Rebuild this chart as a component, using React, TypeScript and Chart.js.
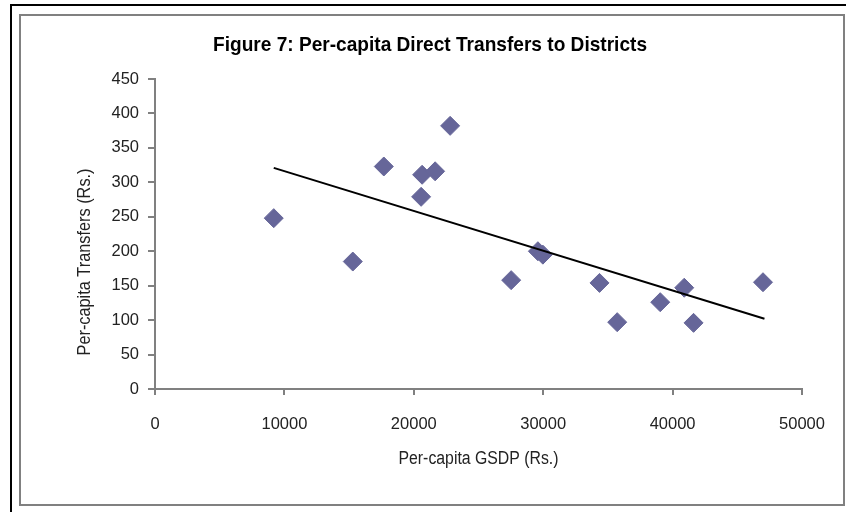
import React, { useEffect, useRef } from "react";
import { Chart, registerables } from "chart.js";

Chart.register(...registerables);

const chartTitle = "Figure 7: Per-capita Direct Transfers to Districts";
const xAxisTitle = "Per-capita GSDP (Rs.)";
const yAxisTitle = "Per-capita Transfers (Rs.)";

const gsdp = [9177, 15285, 17682, 20643, 21648, 20566, 22808, 29589, 29975, 27524, 34351, 35720, 39044, 40900, 41619, 46985];
const transfers = [248, 185, 323, 311, 316, 279, 382, 200, 195, 158, 154, 97, 126, 147, 96, 155];

const trendX = [9177, 47100];
const trendY = [321, 102];

const xMin = 0;
const xMax = 50000;
const xStep = 10000;
const yMin = 0;
const yMax = 450;
const yStep = 50;

const FONT = "'Liberation Sans', Arial, sans-serif";

function narrowText(ctx: any, text: string, x: number, y: number, targetWidth: number) {
  const w = ctx.measureText(text).width;
  const k = Math.min(1, targetWidth / w);
  ctx.save();
  ctx.translate(x, y);
  ctx.scale(k, 1);
  ctx.fillText(text, 0, 0);
  ctx.restore();
}

export default function App() {
  const ref = useRef<HTMLCanvasElement | null>(null);

  useEffect(() => {
    if (!ref.current) return;
    const textPlugin = {
      id: "texts",
      afterDraw(chart: any) {
        const ctx = chart.ctx;
        const ca = chart.chartArea;
        ctx.save();
        ctx.fillStyle = "#000";
        ctx.textAlign = "center";
        ctx.textBaseline = "middle";
        ctx.font = `bold 21px ${FONT}`;
        narrowText(ctx, chartTitle, 430, 45, 434);
        ctx.fillStyle = "#222";
        ctx.font = `18px ${FONT}`;
        narrowText(ctx, xAxisTitle, (ca.left + ca.right) / 2, 459, 160);
        ctx.translate(85, 262);
        ctx.rotate(-Math.PI / 2);
        narrowText(ctx, yAxisTitle, 0, 0, 187);
        ctx.restore();
      },
    };

    const chart = new Chart(ref.current, {
      type: "scatter",
      data: {
        datasets: [
          {
            label: "Trend",
            data: trendX.map((x, i) => ({ x, y: trendY[i] })),
            showLine: true,
            borderColor: "#000",
            borderWidth: 2,
            pointRadius: 0,
            order: 0,
          },
          {
            label: "Districts",
            data: gsdp.map((x, i) => ({ x, y: transfers[i] })),
            pointStyle: "rectRot",
            pointRadius: 9.5,
            backgroundColor: "#666699",
            borderColor: "#666699",
            borderWidth: 1,
            order: 1,
          },
        ],
      },
      options: {
        animation: false,
        responsive: false,
        maintainAspectRatio: false,
        layout: { padding: { left: 0, right: 44, top: 79, bottom: 0 } },
        plugins: {
          legend: { display: false },
          tooltip: { enabled: false },
          title: { display: false },
        },
        scales: {
          x: {
            type: "linear",
            min: xMin,
            max: xMax,
            afterFit(scale: any) {
              scale.height = 123;
            },
            ticks: {
              stepSize: xStep,
              padding: 20,
              color: "#222",
              font: { family: FONT, size: 16.5 },
              callback: (v: any) => String(v),
            },
            grid: {
              drawOnChartArea: false,
              drawTicks: true,
              tickLength: 6,
              color: "#808080",
              lineWidth: 2,
            },
            border: { color: "#808080", width: 2 },
          },
          y: {
            type: "linear",
            min: yMin,
            max: yMax,
            afterFit(scale: any) {
              scale.width = 155;
            },
            ticks: {
              stepSize: yStep,
              padding: 9,
              color: "#222",
              font: { family: FONT, size: 16.5 },
              callback: (v: any) => String(v),
            },
            grid: {
              drawOnChartArea: false,
              drawTicks: true,
              tickLength: 7,
              color: "#808080",
              lineWidth: 2,
            },
            border: { color: "#808080", width: 2 },
          },
        },
      },
      plugins: [textPlugin],
    });
    return () => chart.destroy();
  }, []);

  return (
    <div style={{ position: "absolute", left: 0, top: 0, width: 846, height: 512, background: "#fff" }}>
      <div style={{ position: "absolute", left: 10, top: 4, width: 836, height: 2, background: "#000" }} />
      <div style={{ position: "absolute", left: 10, top: 4, width: 2, height: 508, background: "#000" }} />
      <div
        style={{
          position: "absolute",
          left: 19,
          top: 14,
          width: 822,
          height: 488,
          border: "2px solid #808080",
        }}
      />
      <canvas ref={ref} width={846} height={512} style={{ position: "absolute", left: 0, top: 0, width: 846, height: 512 }} />
    </div>
  );
}
